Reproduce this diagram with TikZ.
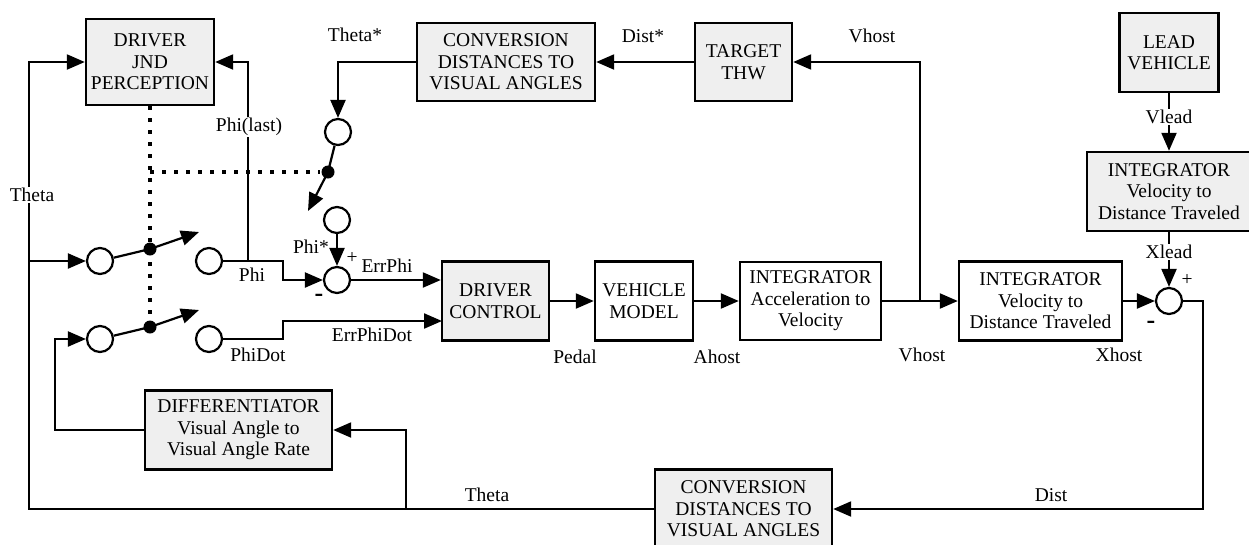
\documentclass[tikz,border=0pt]{standalone}
\usepackage{fontspec}
\setmainfont{Liberation Serif}
\usetikzlibrary{arrows.meta}
\definecolor{boxgray}{HTML}{EFEFEF}
\begin{document}
\begin{tikzpicture}[x=1pt,y=-1pt,
  font=\fontsize{19.5}{21.5}\selectfont,
  line width=2.2pt,
  arr/.style={-{Triangle[length=18pt,width=15pt]}},
  blk/.style={draw,line width=2.4pt,align=center,inner sep=0pt},
  gblk/.style={blk,fill=boxgray},
  port/.style={draw,circle,fill=white,minimum size=26pt,inner sep=0pt},
  pin/.style={fill,circle,minimum size=13pt,inner sep=0pt},
  link/.style={dash pattern=on 4pt off 8pt,line width=3.2pt},
  lbl/.style={inner sep=1pt},
  sgn/.style={inner sep=0pt,font=\bfseries\fontsize{26}{26}\selectfont}]
\useasboundingbox (0,0) rectangle (1249,544);

\node[gblk,minimum width=128pt,minimum height=86pt] (jnd) at (150,62) {DRIVER\\JND\\PERCEPTION};
\node[gblk,minimum width=178pt,minimum height=78pt] (convtop) at (506,62) {CONVERSION\\DISTANCES TO\\VISUAL ANGLES};
\node[gblk,minimum width=97pt,minimum height=78pt] (thw) at (743.5,62) {TARGET\\THW};
\node[gblk,minimum width=99pt,minimum height=79pt] (lead) at (1169,52.5) {LEAD\\VEHICLE};
\node[gblk,minimum width=164pt,minimum height=79pt] (intlead) at (1169,191.5) {INTEGRATOR\\Velocity to\\Distance Traveled};
\node[gblk,minimum width=107pt,minimum height=79pt] (ctrl) at (495.5,301) {DRIVER\\CONTROL};
\node[blk,minimum width=98pt,minimum height=79pt] (vehicle) at (644,301) {VEHICLE\\MODEL};
\node[blk,minimum width=141pt,minimum height=78pt] (intacc) at (810.5,301) {INTEGRATOR\\Acceleration to\\Velocity};
\node[blk,minimum width=163pt,minimum height=79pt] (intvel) at (1040.5,301) {INTEGRATOR\\Velocity to\\Distance Traveled};
\node[gblk,minimum width=187pt,minimum height=79pt] (diff) at (238.5,430) {DIFFERENTIATOR\\Visual Angle to\\Visual Angle Rate};
\node[gblk,minimum width=177pt,minimum height=79pt] (convbot) at (743.5,509) {CONVERSION\\DISTANCES TO\\VISUAL ANGLES};

\node[port] (s1in) at (100,261) {};
\node[port] (s1out) at (209,261) {};
\node[port] (s2in) at (100,339) {};
\node[port] (s2out) at (209,339) {};
\node[port] (thin) at (338,132) {};
\node[port] (phistar) at (337,220) {};
\node[port] (sum1) at (337,280) {};
\node[port] (sum2) at (1169,301) {};

\node[pin] (d1) at (150,249) {};
\node[pin] (d2) at (150,327) {};
\node[pin] (d3) at (328,172) {};
\coordinate (djoin) at (150,172);
\coordinate (tip1) at (199,232);
\coordinate (tip2) at (199,310);
\coordinate (tip3) at (308,211);

\coordinate (thetabus) at (29,509);
\coordinate (dtap) at (406,509);
\coordinate (phibend) at (283,261);
\coordinate (lasttap) at (248,261);
\coordinate (dotbend) at (283,339);
\coordinate (edin) at (442,321);
\coordinate (vtap) at (920,301);
\coordinate (distbend) at (1203,301);

\draw[link] (jnd.south) -- (d2);
\draw[link] (djoin) -- (d3);

\draw[arr] (s1in) -- (d1.center) -- (tip1);
\draw[arr] (s2in) -- (d2.center) -- (tip2);
\draw[arr] (thin) -- (d3.center) -- (tip3);

\draw[arr] (convbot.west) -- (thetabus) |- (jnd.west);
\draw[arr] (thetabus |- s1in) -- (s1in);
\draw[arr] (dtap) |- (diff.east);
\draw[arr] (diff.west) -- ++(-89,0) |- (s2in);
\draw[arr] (s1out) -- (phibend) |- (sum1);
\draw[arr] (lasttap) |- (jnd.east);
\draw[arr] (s2out) -- (dotbend) |- (edin);
\draw[arr] (sum1) -- (sum1 -| ctrl.west);
\draw[arr] (phistar) -- (sum1);
\draw[arr] (convtop.west) -| (thin);
\draw[arr] (thw.west) -- (convtop.east);
\draw[arr] (ctrl) -- (vehicle);
\draw[arr] (vehicle) -- (intacc);
\draw[arr] (intacc) -- (intvel);
\draw[arr] (vtap) |- (thw.east);
\draw[arr] (intvel) -- (sum2);
\draw[arr] (sum2) -- (distbend) |- (convbot.east);
\draw[arr] (lead) -- (intlead);
\draw[arr] (intlead) -- (sum2);

\node[lbl,fill=white] (ltheta) at (32,195) {Theta};
\node[lbl,fill=white] (llast) at (249,127) {Phi(last)};
\node[lbl,fill=white] (lvlead) at (1169,117) {Vlead};
\node[lbl,fill=white] (lxlead) at (1169,252) {Xlead};
\node[lbl] (lthetastar) at (355,35) {Theta*};
\node[lbl] (ldiststar) at (643,36) {Dist*};
\node[lbl] (lvhosttop) at (872,36) {Vhost};
\node[lbl] (lphistar) at (311,247) {Phi*};
\node[lbl] (lplus1) at (352,258) {+};
\node[sgn] (lminus1) at (319,298) {-};
\node[lbl] (lerrphi) at (387,266) {ErrPhi};
\node[lbl] (lphi) at (252,275) {Phi};
\node[lbl] (lphidot) at (258,355) {PhiDot};
\node[lbl] (lerrdot) at (372,335) {ErrPhiDot};
\node[lbl] (lpedal) at (575,357) {Pedal};
\node[lbl] (lahost) at (717,357) {Ahost};
\node[lbl] (lvhost) at (922,355) {Vhost};
\node[lbl] (lxhost) at (1119,355) {Xhost};
\node[lbl] (lplus2) at (1187,280) {+};
\node[sgn] (lminus2) at (1151,325) {-};
\node[lbl] (ldist) at (1051,495) {Dist};
\node[lbl] (lthetabot) at (487,495) {Theta};
\end{tikzpicture}
\end{document}
